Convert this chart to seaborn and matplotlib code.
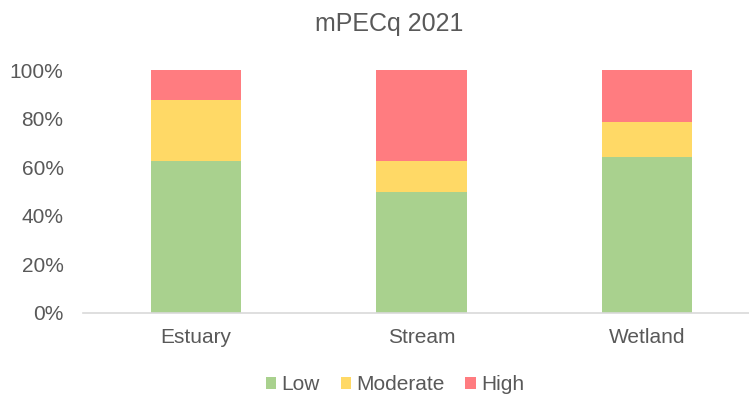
import matplotlib
matplotlib.use("Agg")
import matplotlib.pyplot as plt
import seaborn as sns
import pandas as pd
import numpy as np
from matplotlib.patches import Patch
from matplotlib.ticker import PercentFormatter

categories = ["Estuary", "Stream", "Wetland"]
low = [62.5, 50.0, 64.3]
moderate = [25.0, 12.5, 14.3]
high = [12.5, 37.5, 21.4]
series_names = ["Low", "Moderate", "High"]
colors = ["#A9D18E", "#FFD966", "#FF7C80"]
title = "mPECq 2021"

sns.set_theme(style="white")
plt.rcParams["font.family"] = ["Liberation Sans", "DejaVu Sans"]
txt = "#595959"

low_a = np.array(low) / 100
mod_a = np.array(moderate) / 100
high_a = np.array(high) / 100
df = pd.DataFrame({
    "cat": categories,
    "low": low_a,
    "lowmod": low_a + mod_a,
    "total": low_a + mod_a + high_a,
})

fig = plt.figure(figsize=(7.49, 4.0), dpi=100)
ax = fig.add_axes([83 / 749, 1 - 313 / 400, (749 - 83) / 749, (313 - 70) / 400])

sns.barplot(data=df, x="cat", y="total", color=colors[2], width=0.4, ax=ax, saturation=1, linewidth=0)
sns.barplot(data=df, x="cat", y="lowmod", color=colors[1], width=0.4, ax=ax, saturation=1, linewidth=0)
sns.barplot(data=df, x="cat", y="low", color=colors[0], width=0.4, ax=ax, saturation=1, linewidth=0)

ax.set_xlim(-0.5, 2.452)
ax.set_ylim(0, 1)
ax.set_yticks(np.arange(0, 1.01, 0.2))
ax.yaxis.set_major_formatter(PercentFormatter(1.0, decimals=0))
ax.set_xlabel("")
ax.set_ylabel("")
for s in ["top", "right", "left"]:
    ax.spines[s].set_visible(False)
ax.spines["bottom"].set_color("#D9D9D9")
ax.spines["bottom"].set_linewidth(1.2)
ax.tick_params(axis="y", length=0, pad=14, labelsize=15, labelcolor=txt)
ax.tick_params(axis="x", length=0, pad=11, labelsize=15, labelcolor=txt)

fig.text(389 / 749, 1 - 24 / 400, title, ha="center", va="center", fontsize=18, color=txt)

handles = [Patch(facecolor=c, edgecolor="none", label=n) for c, n in zip(colors, series_names)]
fig.legend(handles=handles, loc="center", bbox_to_anchor=(395 / 749, 1 - 385 / 400), ncol=3,
           frameon=False, fontsize=15, labelcolor=txt, handlelength=0.5, handleheight=0.5,
           handletextpad=0.25, columnspacing=1.0)

fig.savefig("out.png", dpi=100)
